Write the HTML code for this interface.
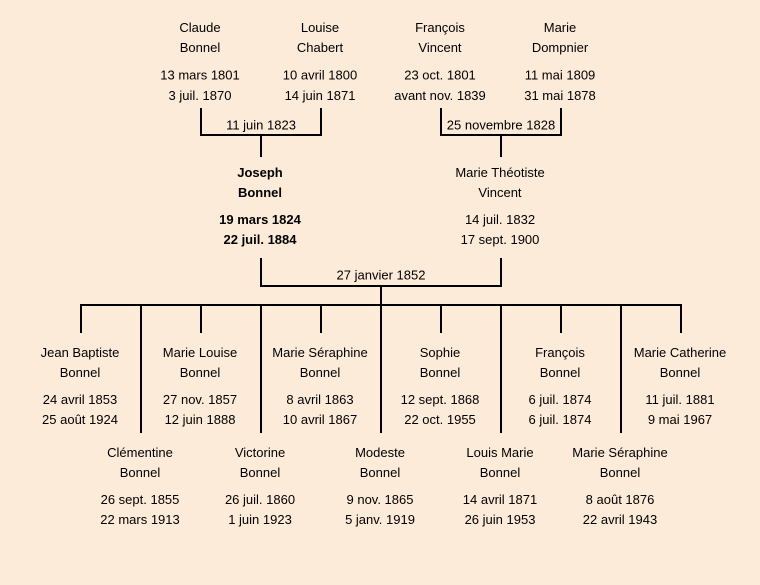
<!DOCTYPE html>
<html><head><meta charset="utf-8"><style>
html,body{margin:0;padding:0;background:#fcebd9;}
svg{display:block;}
text{font-family:"Liberation Sans",sans-serif;font-size:13px;fill:#000;text-anchor:middle;}
.b{font-weight:bold;}
</style></head><body>
<svg width="760" height="585" viewBox="0 0 760 585" xmlns="http://www.w3.org/2000/svg">
<rect width="760" height="585" fill="#fcebd9"/>
<g stroke="#000" stroke-width="2" fill="none">
<path d="M201 108V135H321V108M261 135V157"/>
<path d="M441 108V135H561V108M501 135V157"/>
<path d="M261 258V286H501V258M381 286V305"/>
<path d="M81 333V305H681V333"/>
<path d="M201 305V333M321 305V333M441 305V333M561 305V333"/>
<path d="M141 305V433M261 305V433M381 305V433M501 305V433M621 305V433"/>
</g>
<g>
<text x="200" y="32">Claude</text><text x="200" y="52">Bonnel</text>
<text x="200" y="79.5">13 mars 1801</text><text x="200" y="100">3 juil. 1870</text>
<text x="320" y="32">Louise</text><text x="320" y="52">Chabert</text>
<text x="320" y="79.5">10 avril 1800</text><text x="320" y="100">14 juin 1871</text>
<text x="440" y="32">François</text><text x="440" y="52">Vincent</text>
<text x="440" y="79.5">23 oct. 1801</text><text x="440" y="100">avant nov. 1839</text>
<text x="560" y="32">Marie</text><text x="560" y="52">Dompnier</text>
<text x="560" y="79.5">11 mai 1809</text><text x="560" y="100">31 mai 1878</text>
<text x="261" y="129.5">11 juin 1823</text>
<text x="501" y="129.5">25 novembre 1828</text>
<text class="b" x="260" y="177">Joseph</text><text class="b" x="260" y="197">Bonnel</text>
<text class="b" x="260" y="224">19 mars 1824</text><text class="b" x="260" y="244">22 juil. 1884</text>
<text x="500" y="177">Marie Théotiste</text><text x="500" y="197">Vincent</text>
<text x="500" y="224">14 juil. 1832</text><text x="500" y="244">17 sept. 1900</text>
<text x="381" y="279.5">27 janvier 1852</text>

<text x="80" y="357">Jean Baptiste</text><text x="80" y="377">Bonnel</text>
<text x="80" y="404">24 avril 1853</text><text x="80" y="424">25 août 1924</text>
<text x="200" y="357">Marie Louise</text><text x="200" y="377">Bonnel</text>
<text x="200" y="404">27 nov. 1857</text><text x="200" y="424">12 juin 1888</text>
<text x="320" y="357">Marie Séraphine</text><text x="320" y="377">Bonnel</text>
<text x="320" y="404">8 avril 1863</text><text x="320" y="424">10 avril 1867</text>
<text x="440" y="357">Sophie</text><text x="440" y="377">Bonnel</text>
<text x="440" y="404">12 sept. 1868</text><text x="440" y="424">22 oct. 1955</text>
<text x="560" y="357">François</text><text x="560" y="377">Bonnel</text>
<text x="560" y="404">6 juil. 1874</text><text x="560" y="424">6 juil. 1874</text>
<text x="680" y="357">Marie Catherine</text><text x="680" y="377">Bonnel</text>
<text x="680" y="404">11 juil. 1881</text><text x="680" y="424">9 mai 1967</text>

<text x="140" y="457">Clémentine</text><text x="140" y="477">Bonnel</text>
<text x="140" y="504">26 sept. 1855</text><text x="140" y="524">22 mars 1913</text>
<text x="260" y="457">Victorine</text><text x="260" y="477">Bonnel</text>
<text x="260" y="504">26 juil. 1860</text><text x="260" y="524">1 juin 1923</text>
<text x="380" y="457">Modeste</text><text x="380" y="477">Bonnel</text>
<text x="380" y="504">9 nov. 1865</text><text x="380" y="524">5 janv. 1919</text>
<text x="500" y="457">Louis Marie</text><text x="500" y="477">Bonnel</text>
<text x="500" y="504">14 avril 1871</text><text x="500" y="524">26 juin 1953</text>
<text x="620" y="457">Marie Séraphine</text><text x="620" y="477">Bonnel</text>
<text x="620" y="504">8 août 1876</text><text x="620" y="524">22 avril 1943</text>
</g>
</svg>
</body></html>
